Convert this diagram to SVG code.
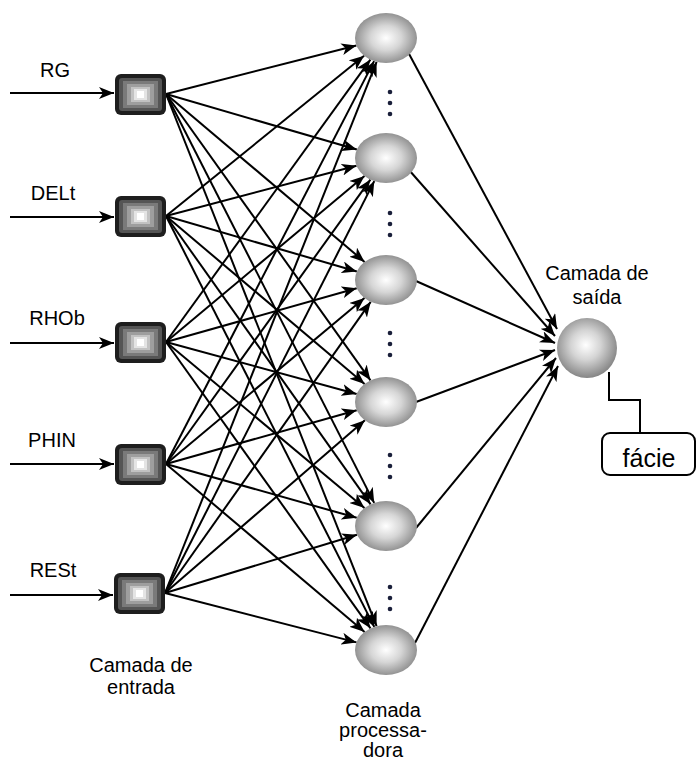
<svg xmlns="http://www.w3.org/2000/svg" xmlns:xlink="http://www.w3.org/1999/xlink" width="697" height="764" viewBox="0 0 697 764">
<style>
text{font-family:"Liberation Sans",Arial,sans-serif;font-size:20px;fill:#000}
.c{text-anchor:middle}
.ln{stroke:#000;stroke-width:2;fill:none;marker-end:url(#ah)}
</style>
<defs>
<marker id="ah" markerUnits="userSpaceOnUse" markerWidth="16" markerHeight="12" refX="15" refY="6" orient="auto" viewBox="0 0 16 12">
<path d="M0,0 L15,6 L0,12 L4,6 z" fill="#000"/>
</marker>
<radialGradient id="hg" cx="50%" cy="50%" r="55%">
<stop offset="0" stop-color="#ffffff"/>
<stop offset="0.45" stop-color="#d6d6d6"/>
<stop offset="1" stop-color="#858585"/>
</radialGradient>
<radialGradient id="og" cx="48%" cy="45%" r="55%">
<stop offset="0" stop-color="#ffffff"/>
<stop offset="0.45" stop-color="#d4d4d4"/>
<stop offset="1" stop-color="#858585"/>
</radialGradient>
<g id="box">
<rect x="0" y="0" width="51" height="41" rx="6" fill="#1e1e1e"/>
<rect x="4" y="4" width="43" height="33" rx="3" fill="#555555"/>
<rect x="8" y="7" width="35" height="27" fill="#7a7a7a"/>
<rect x="12" y="10" width="27" height="21" fill="#9e9e9e"/>
<rect x="16" y="13" width="19" height="15" fill="#c2c2c2"/>
<rect x="19" y="15" width="13" height="11" fill="#e4e4e4"/>
<rect x="22" y="17" width="7" height="7" fill="#ffffff"/>
</g>
<g id="dots" fill="#1a1f3a">
<circle cx="0" cy="0" r="2.3"/>
<circle cx="0" cy="11" r="2.3"/>
<circle cx="0" cy="22" r="2.3"/>
</g>
</defs>
<rect width="697" height="764" fill="#fff"/>

<g id="connectors">
<line class="ln" x1="10" y1="93" x2="114" y2="93"/>
<line class="ln" x1="10" y1="217" x2="114" y2="217"/>
<line class="ln" x1="10" y1="343" x2="114" y2="343"/>
<line class="ln" x1="10" y1="464" x2="114" y2="464"/>
<line class="ln" x1="10" y1="595" x2="113" y2="595"/>
<line class="ln" x1="166" y1="94" x2="356.4" y2="45.5"/>
<line class="ln" x1="166" y1="94" x2="356.8" y2="149.5"/>
<line class="ln" x1="166" y1="94" x2="364.6" y2="261.9"/>
<line class="ln" x1="166" y1="94" x2="370.5" y2="380.3"/>
<line class="ln" x1="166" y1="94" x2="374.2" y2="502.9"/>
<line class="ln" x1="166" y1="94" x2="376.6" y2="626.2"/>
<line class="ln" x1="166" y1="216" x2="364.1" y2="55.7"/>
<line class="ln" x1="166" y1="216" x2="356.5" y2="165.8"/>
<line class="ln" x1="166" y1="216" x2="356.8" y2="271.5"/>
<line class="ln" x1="166" y1="216" x2="364.6" y2="383.9"/>
<line class="ln" x1="166" y1="216" x2="370.6" y2="504.3"/>
<line class="ln" x1="166" y1="216" x2="374.3" y2="626.9"/>
<line class="ln" x1="166" y1="342" x2="370.4" y2="59.6"/>
<line class="ln" x1="166" y1="342" x2="364.5" y2="176"/>
<line class="ln" x1="166" y1="342" x2="356.7" y2="288.2"/>
<line class="ln" x1="166" y1="342" x2="356.6" y2="394"/>
<line class="ln" x1="166" y1="342" x2="364.5" y2="508"/>
<line class="ln" x1="166" y1="342" x2="370.5" y2="628.3"/>
<line class="ln" x1="166" y1="464" x2="374.1" y2="61.1"/>
<line class="ln" x1="166" y1="464" x2="370.4" y2="179.6"/>
<line class="ln" x1="166" y1="464" x2="364.5" y2="298"/>
<line class="ln" x1="166" y1="464" x2="356.7" y2="410.2"/>
<line class="ln" x1="166" y1="464" x2="356.7" y2="517.8"/>
<line class="ln" x1="166" y1="464" x2="364.6" y2="631.9"/>
<line class="ln" x1="165" y1="593" x2="376.6" y2="61.8"/>
<line class="ln" x1="165" y1="593" x2="374.3" y2="181.1"/>
<line class="ln" x1="165" y1="593" x2="370.7" y2="301.8"/>
<line class="ln" x1="165" y1="593" x2="364.9" y2="420.3"/>
<line class="ln" x1="165" y1="593" x2="357" y2="534.8"/>
<line class="ln" x1="165" y1="593" x2="356.5" y2="642.4"/>
<line class="ln" x1="408" y1="52" x2="557" y2="329"/>
<line class="ln" x1="409" y1="170" x2="555" y2="336"/>
<line class="ln" x1="416" y1="281" x2="555" y2="343"/>
<line class="ln" x1="416" y1="402" x2="555" y2="350"/>
<line class="ln" x1="416" y1="528" x2="556" y2="358"/>
<line class="ln" x1="415" y1="643" x2="558" y2="366"/>
<polyline points="609,372 609,400 640,400 640,433" stroke="#000" stroke-width="2" fill="none"/>
</g>

<g id="in-RG"><use xlink:href="#box" x="115" y="74"/><text class="c" x="55" y="77">RG</text></g>
<g id="in-DELt"><use xlink:href="#box" x="115" y="196"/><text class="c" x="53" y="200">DELt</text></g>
<g id="in-RHOb"><use xlink:href="#box" x="115" y="322"/><text class="c" x="57" y="325">RHOb</text></g>
<g id="in-PHIN"><use xlink:href="#box" x="115" y="444"/><text class="c" x="52" y="447">PHIN</text></g>
<g id="in-RESt"><use xlink:href="#box" x="114" y="573"/><text class="c" x="53" y="577">RESt</text></g>

<g id="h1"><ellipse cx="386" cy="38" rx="31" ry="25" fill="url(#hg)"/></g>
<g id="h2"><ellipse cx="386" cy="158" rx="31" ry="25" fill="url(#hg)"/></g>
<g id="h3"><ellipse cx="386" cy="280" rx="31" ry="25" fill="url(#hg)"/></g>
<g id="h4"><ellipse cx="386" cy="402" rx="31" ry="25" fill="url(#hg)"/></g>
<g id="h5"><ellipse cx="386" cy="526" rx="31" ry="25" fill="url(#hg)"/></g>
<g id="h6"><ellipse cx="386" cy="650" rx="31" ry="25" fill="url(#hg)"/></g>

<g id="ellipsis">
<use xlink:href="#dots" x="390" y="92"/>
<use xlink:href="#dots" x="390" y="213"/>
<use xlink:href="#dots" x="390" y="333"/>
<use xlink:href="#dots" x="390" y="455"/>
<use xlink:href="#dots" x="390" y="587"/>
</g>

<g id="out"><circle cx="587" cy="348" r="30" fill="url(#og)"/></g>
<g id="facie"><rect x="602" y="433" width="93" height="42" rx="8" fill="#fff" stroke="#000" stroke-width="2"/><text class="c" x="649" y="467" style="font-size:25px">fácie</text></g>

<g id="labels">
<text class="c" x="141" y="672">Camada de</text>
<text class="c" x="141" y="694">entrada</text>
<text class="c" x="383" y="717">Camada</text>
<text class="c" x="383" y="737">processa-</text>
<text class="c" x="383" y="757">dora</text>
<text class="c" x="597" y="280">Camada de</text>
<text class="c" x="597" y="304">saída</text>
</g>
</svg>
